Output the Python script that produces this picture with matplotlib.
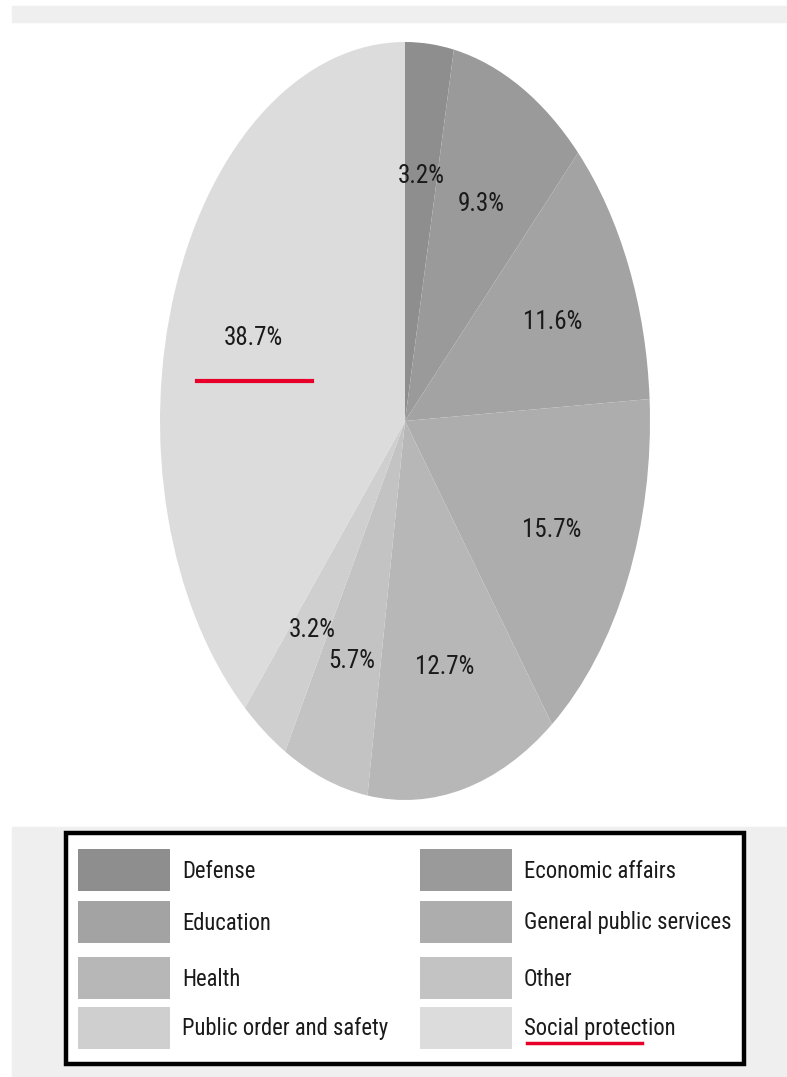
import numpy as np
import matplotlib.pyplot as plt
from matplotlib.patches import Rectangle
from matplotlib.lines import Line2D

# --- data ---
categories = ["Defense", "Economic affairs", "Education", "General public services",
              "Health", "Other", "Public order and safety", "Social protection"]
shares = [3.2, 9.3, 11.6, 15.7, 12.7, 5.7, 3.2, 38.7]
colors = ["#8e8e8e", "#9a9a9a", "#a3a3a3", "#adadad",
          "#b7b7b7", "#c3c3c3", "#cfcfcf", "#dcdcdc"]

# narrow sans to mimic the condensed original
plt.rcParams["font.family"] = ["Roboto Condensed", "Liberation Sans Narrow", "Liberation Sans"]

W, H = 787, 1077
fig = plt.figure(figsize=(W / 100, H / 100), dpi=100)
fig.patch.set_facecolor("white")

def fx(px):
    return px / W

def fy(py):
    return 1 - py / H

# light gray bands (top strip + legend panel)
fig.patches.append(Rectangle((fx(12), fy(22)), 1 - fx(12), (22 - 6) / H,
                             transform=fig.transFigure, color="#efefef", zorder=0))
fig.patches.append(Rectangle((fx(12), fy(1076)), 1 - fx(12), (1076 - 827) / H,
                             transform=fig.transFigure, color="#efefef", zorder=0))

# pie axes: stretched vertically (ellipse)
ax = fig.add_axes([fx(160), fy(800), (650 - 160) / W, (800 - 42) / H])
wedges = ax.pie(shares, colors=colors, startangle=90, counterclock=False,
                radius=1, wedgeprops=dict(linewidth=0))[0]
ax.set_xlim(-1, 1)
ax.set_ylim(-1, 1)
ax.set_aspect("auto")
ax.axis("off")

# percentage labels at mid-angle of each wedge
total = sum(shares)
cum = 0.0
for v in shares:
    mid = np.radians(90 - 360 * (cum + v / 2) / total)
    r = 0.66
    ax.text(r * np.cos(mid), r * np.sin(mid) - 0.01, f"{v:.1f}%",
            ha="center", va="center", fontsize=18, color="#1a1a1a")
    cum += v

# legend box (manual, two columns filled row-wise)
fig.patches.append(Rectangle((fx(66), fy(1064)), (744 - 66) / W, (1064 - 833) / H,
                             transform=fig.transFigure, facecolor="white",
                             edgecolor="black", linewidth=3.2, zorder=2))
row_y = [870, 922, 978, 1028]
col_x = [78, 420]
for i, (lab, c) in enumerate(zip(categories, colors)):
    row, col = i // 2, i % 2
    x0 = col_x[col]
    yc = row_y[row]
    fig.patches.append(Rectangle((fx(x0), fy(yc + 21)), 92 / W, 42 / H,
                                 transform=fig.transFigure, facecolor=c,
                                 edgecolor="none", zorder=3))
    fig.text(fx(x0 + 104), fy(yc + 1), lab, ha="left", va="center",
             fontsize=16.3, color="#1a1a1a", zorder=4)

# red underline annotations
fig.lines.append(Line2D([fx(197), fx(312)], [fy(381), fy(381)], color="#e8002a",
                        linewidth=3, transform=fig.transFigure, zorder=5))
fig.lines.append(Line2D([fx(527), fx(642)], [fy(1043), fy(1043)], color="#e8002a",
                        linewidth=2.5, transform=fig.transFigure, zorder=5))

fig.savefig("out.png", dpi=100)
